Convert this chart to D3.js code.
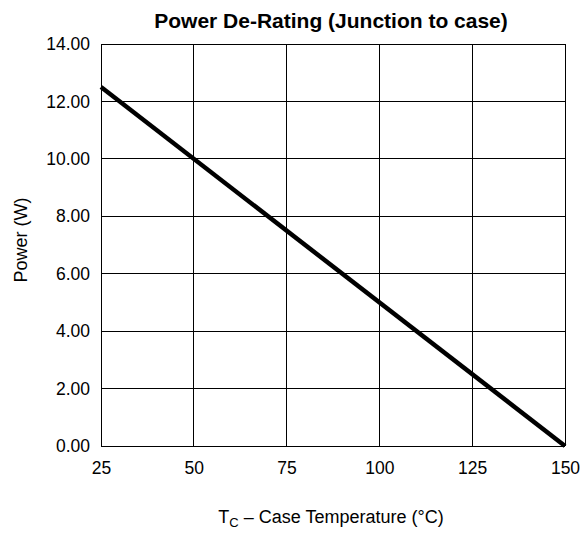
<!DOCTYPE html>
<meta charset="utf-8">
<script src="https://d3js.org/d3.v7.min.js"></script>
<style>
  body { margin: 0; background: #fff; }
  text { font-family: "Liberation Sans", Arial, sans-serif; fill: #000; }
</style>
<div id="my_chart"><svg></svg></div>
<script>
    // data
    var temps = [25, 150];
    var power = [12.5, 0];
    var xTicks = [25, 50, 75, 100, 125, 150];
    var yTicks = [0, 2, 4, 6, 8, 10, 12, 14];

    var margin = {top: 44, right: 18, bottom: 87, left: 101},
        width = 583 - margin.left - margin.right,
        height = 533 - margin.top - margin.bottom;

    var root = d3.select("#my_chart").select("svg")
        .attr("width", 583)
        .attr("height", 533);
    var svg = root.append("g")
        .attr("transform", "translate(" + margin.left + "," + margin.top + ")");

    var x = d3.scaleLinear().domain([25, 150]).range([0, width]);
    var y = d3.scaleLinear().domain([0, 14]).range([height, 0]);

    // grid
    svg.append("g").selectAll("line").data(xTicks).enter().append("line")
        .attr("x1", d => x(d)).attr("x2", d => x(d))
        .attr("y1", 0).attr("y2", height)
        .attr("stroke", "#000").attr("stroke-width", 1).attr("shape-rendering", "crispEdges");
    svg.append("g").selectAll("line").data(yTicks).enter().append("line")
        .attr("x1", 0).attr("x2", width)
        .attr("y1", d => y(d)).attr("y2", d => y(d))
        .attr("stroke", "#000").attr("stroke-width", 1).attr("shape-rendering", "crispEdges");

    // axes (labels only)
    var xAxis = svg.append("g")
        .attr("transform", "translate(0," + height + ")")
        .call(d3.axisBottom(x).tickValues(xTicks).tickSize(0).tickPadding(16));
    xAxis.select(".domain").remove();
    xAxis.selectAll("text").style("font-size", "17.5px").attr("font-family", null);

    var yAxis = svg.append("g")
        .call(d3.axisLeft(y).tickValues(yTicks).tickSize(0).tickPadding(11).tickFormat(d3.format(".2f")));
    yAxis.select(".domain").remove();
    yAxis.selectAll("text").style("font-size", "17.5px").attr("font-family", null);

    // the line
    var data = temps.map((t, i) => ({t: t, p: power[i]}));
    svg.append("path")
        .datum(data)
        .attr("fill", "none")
        .attr("stroke", "#000")
        .attr("stroke-width", 4.5)
        .attr("d", d3.line().x(d => x(d.t)).y(d => y(d.p)));

    // title
    root.append("text")
        .attr("x", 331)
        .attr("y", 28)
        .attr("text-anchor", "middle")
        .style("font-size", "21px")
        .style("font-weight", "bold")
        .text("Power De-Rating (Junction to case)");

    // y label
    root.append("text")
        .attr("transform", "translate(27,240) rotate(-90)")
        .attr("text-anchor", "middle")
        .style("font-size", "18px")
        .text("Power (W)");

    // x label
    var xl = root.append("text")
        .attr("x", 331)
        .attr("y", 523)
        .attr("text-anchor", "middle")
        .style("font-size", "18px");
    xl.append("tspan").text("T");
    xl.append("tspan").attr("dy", 4).style("font-size", "13px").text("C");
    xl.append("tspan").attr("dy", -4).text(" \u2013 Case Temperature (\u00B0C)");
</script>
